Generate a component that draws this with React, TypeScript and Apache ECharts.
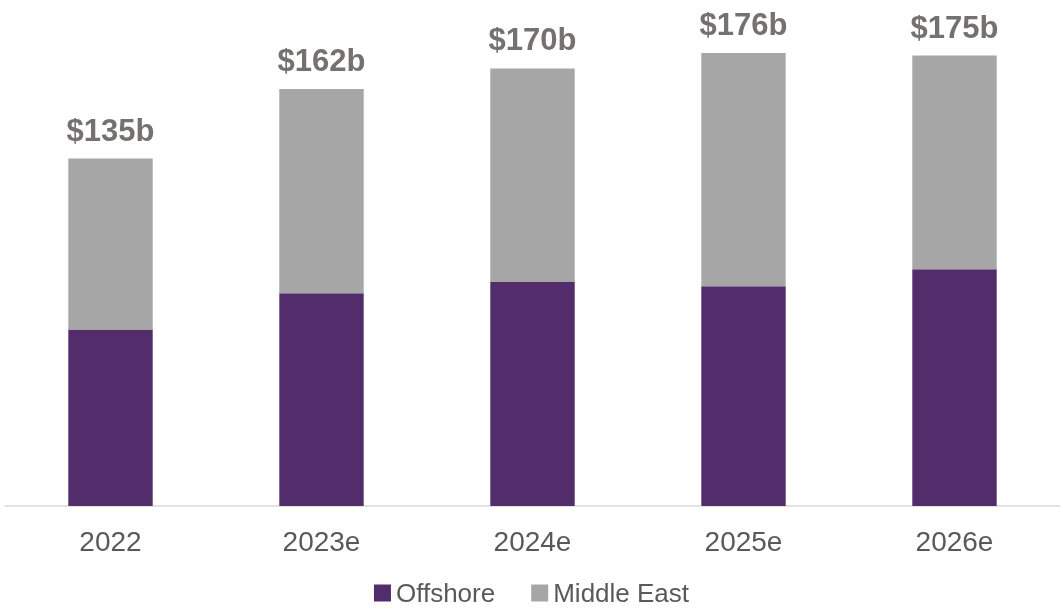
import React, { useEffect, useRef } from "react";
import * as echarts from "echarts";

const categories = ["2022", "2023e", "2024e", "2025e", "2026e"];
const offshore = [68.6, 82.7, 87, 85.4, 92];
const middleEast = [66.4, 79.3, 83, 90.6, 83];
const totalLabels = ["$135b", "$162b", "$170b", "$176b", "$175b"];

export default function App() {
  const ref = useRef<HTMLDivElement>(null);
  useEffect(() => {
    if (!ref.current) return;
    const chart = echarts.init(ref.current, undefined, { renderer: "svg" });
    chart.setOption({
      animation: false,
      textStyle: { fontFamily: "Liberation Sans, Arial, sans-serif" },
      grid: { left: 5, right: 3, top: 17, bottom: 103, containLabel: false },
      legend: {
        top: 580,
        left: "center",
        padding: 0,
        itemWidth: 17,
        itemHeight: 17,
        itemGap: 36,
        icon: "rect",
        textStyle: { fontSize: 26, lineHeight: 21, color: "#595959" },
        data: ["Offshore", "Middle East"],
      },
      xAxis: {
        type: "category",
        data: categories,
        axisLine: { show: true, lineStyle: { color: "#d9d9d9", width: 1.5 } },
        axisTick: { show: false },
        axisLabel: { fontSize: 28, color: "#595959", margin: 21 },
      },
      yAxis: {
        type: "value",
        min: 0,
        max: 190,
        show: false,
        splitLine: { show: false },
      },
      series: [
        {
          name: "Offshore",
          type: "bar",
          stack: "total",
          data: offshore,
          barWidth: "40%",
          itemStyle: { color: "#522C6B" },
        },
        {
          name: "Middle East",
          type: "bar",
          stack: "total",
          data: middleEast,
          barWidth: "40%",
          itemStyle: { color: "#A6A6A6" },
          label: {
            show: true,
            position: "top",
            distance: 13,
            fontSize: 31,
            fontWeight: "bold",
            color: "#767171",
            formatter: (p: any) => totalLabels[p.dataIndex],
          },
        },
      ],
    });
    return () => chart.dispose();
  }, []);
  return (
    <div
      ref={ref}
      style={{ position: "fixed", left: 0, top: 0, width: 1063, height: 609 }}
    />
  );
}
